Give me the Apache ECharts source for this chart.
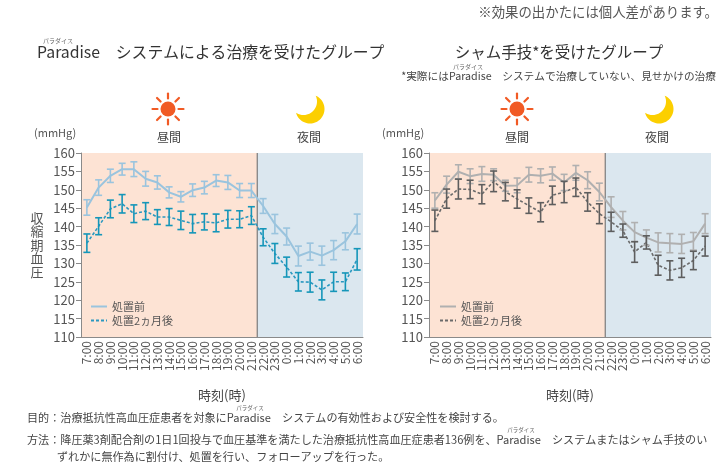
<!DOCTYPE html>
<html>
<head>
<meta charset="utf-8">
<script src="https://cdn.jsdelivr.net/npm/echarts@6/dist/echarts.min.js"></script>
<style>
html, body { margin: 0; padding: 0; background: #fff; }
#main { width: 723px; height: 464px; }
</style>
</head>
<body>
<div id="main"></div>
<script>
var hours = ['7:00', '8:00', '9:00', '10:00', '11:00', '12:00', '13:00', '14:00', '15:00', '16:00', '17:00', '18:00',
    '19:00', '20:00', '21:00', '22:00', '23:00', '0:00', '1:00', '2:00', '3:00', '4:00', '5:00', '6:00'];
var yTicks = [110, 115, 120, 125, 130, 135, 140, 145, 150, 155, 160];

// Paradise システム群
var paraBefore = [145.2, 150.6, 153.8, 155.6, 155.6, 153.0, 152.0, 149.3, 148.1, 149.9, 150.6, 152.5, 152.0, 149.8, 149.8,
    145.6, 140.7, 137.3, 132.0, 133.2, 132.1, 133.6, 136.0, 140.7];
var paraBeforeErr = [2.1, 2.1, 1.8, 1.6, 2.0, 2.0, 1.8, 1.5, 1.4, 1.7, 1.7, 1.6, 1.9, 1.9, 1.9,
    2.0, 2.6, 2.3, 2.7, 2.3, 2.6, 2.6, 2.3, 2.7];
var paraAfter = [135.5, 140.1, 144.8, 146.2, 143.5, 144.2, 142.6, 142.6, 141.7, 140.8, 141.3, 141.0, 142.0, 142.0, 143.0,
    137.1, 132.7, 129.0, 125.0, 124.9, 122.8, 125.0, 125.0, 131.1];
var paraAfterErr = [2.5, 2.3, 2.4, 2.5, 2.4, 2.3, 2.0, 2.3, 2.5, 2.5, 2.2, 2.4, 2.4, 2.3, 2.4,
    2.3, 2.7, 2.7, 2.5, 2.7, 2.7, 2.6, 2.4, 2.9];

// シャム手技群
var shamBefore = [147.1, 151.4, 154.9, 153.7, 154.3, 154.1, 151.1, 151.2, 154.1, 153.8, 154.4, 152.0, 154.6, 152.6, 149.4,
    145.3, 141.6, 138.5, 137.0, 135.7, 135.5, 135.3, 136.0, 140.8];
var shamBeforeErr = [2.1, 2.3, 1.9, 2.0, 2.0, 1.6, 1.5, 2.0, 2.0, 1.9, 1.8, 2.2, 2.0, 2.3, 2.4,
    2.8, 2.5, 2.6, 2.1, 2.6, 2.6, 2.6, 2.4, 2.7];
var shamAfter = [141.6, 147.6, 150.2, 150.1, 148.8, 152.3, 149.5, 147.5, 145.7, 143.9, 148.5, 149.4, 150.7, 146.7, 143.5,
    141.3, 138.9, 133.1, 135.7, 129.5, 128.1, 128.8, 130.8, 134.7];
var shamAfterErr = [2.9, 2.6, 2.7, 2.5, 2.6, 2.8, 2.5, 2.5, 2.1, 2.6, 2.5, 2.9, 2.5, 2.5, 2.7,
    2.6, 1.8, 2.8, 1.8, 2.7, 2.6, 2.6, 2.5, 2.7];

// 昼間 / 夜間 の区間 (category index)
var periods = [[0, 14, '昼間'], [15, 23, '夜間']];
var periodColors = { '昼間': '#fde3d4', '夜間': '#dbe7ef' };

var FONT = "'Noto Sans CJK JP', 'Noto Sans', sans-serif";
var yMin = yTicks[0], yMax = yTicks[yTicks.length - 1];

function errData(mean, err) {
    return mean.map(function (v, i) { return [i, v - err[i], v + err[i]]; });
}

function renderErr(params, api) {
    var top = api.coord([api.value(0), api.value(2)]);
    var bot = api.coord([api.value(0), api.value(1)]);
    var c = api.visual('color');
    var w = 3.5;
    var st = { stroke: c, lineWidth: 1.6 };
    return {
        type: 'group',
        children: [
            { type: 'line', shape: { x1: top[0], y1: top[1], x2: bot[0], y2: bot[1] }, style: st },
            { type: 'line', shape: { x1: top[0] - w, y1: top[1], x2: top[0] + w, y2: top[1] }, style: st },
            { type: 'line', shape: { x1: bot[0] - w, y1: bot[1], x2: bot[0] + w, y2: bot[1] }, style: st }
        ]
    };
}

function renderBg(params, api) {
    var bw = api.size([1, 0])[0];
    var a = api.coord([api.value(0), yMax]);
    var b = api.coord([api.value(1), yMin]);
    var x0 = a[0] - bw / 2, x1 = b[0] + bw / 2;
    var children = [{
        type: 'rect',
        shape: { x: x0, y: a[1], width: x1 - x0, height: b[1] - a[1] },
        style: { fill: periodColors[api.value(2)] }
    }];
    if (params.dataIndex > 0) {
        children.push({
            type: 'line',
            shape: { x1: x0, y1: a[1], x2: x0, y2: b[1] },
            style: { stroke: '#7a7a7a', lineWidth: 1.2 }
        });
    }
    return { type: 'group', children: children };
}

function makeAxes(idx) {
    return {
        x: {
            type: 'category', gridIndex: idx, data: hours,
            axisLine: { lineStyle: { color: '#8a8a8a' } },
            axisTick: { interval: 0, length: 5, lineStyle: { color: '#8a8a8a' } },
            axisLabel: { interval: 0, rotate: 90, fontSize: 12, color: '#555', margin: 4, fontFamily: FONT },
            name: '時刻(時)', nameLocation: 'middle', nameGap: 52,
            nameTextStyle: { fontSize: 13, color: '#444', fontFamily: FONT }
        },
        y: {
            type: 'value', gridIndex: idx, min: yMin, max: yMax, interval: 5,
            axisLine: { show: true, lineStyle: { color: '#8a8a8a' } },
            axisTick: { show: true, length: 5, lineStyle: { color: '#8a8a8a' } },
            splitLine: { show: false },
            axisLabel: { fontSize: 13, color: '#555', margin: 6, fontFamily: FONT }
        }
    };
}

var axL = makeAxes(0), axR = makeAxes(1);

function lineSeries(idx, name, data, color, width, dash) {
    return {
        name: name, type: 'line', xAxisIndex: idx, yAxisIndex: idx, data: data,
        symbol: 'none', showSymbol: false, symbolSize: 0, color: color,
        itemStyle: { color: color, opacity: 0 },
        lineStyle: { color: color, width: width, type: dash, opacity: 1 }, z: 3
    };
}

function groupSeries(idx, prefix, before, beforeErr, after, afterErr, cBefore, cAfter, cAfterErr) {
    return [
        {
            name: prefix + 'bg', type: 'custom', xAxisIndex: idx, yAxisIndex: idx, z: -1,
            renderItem: renderBg, data: periods, silent: true
        },
        lineSeries(idx, prefix + '処置前', before, cBefore, 2, 'solid'),
        lineSeries(idx, prefix + '処置2ヵ月後', after, cAfter, 1.6, [3, 2]),
        {
            name: prefix + 'errBefore', type: 'custom', xAxisIndex: idx, yAxisIndex: idx, z: 4,
            renderItem: renderErr, data: errData(before, beforeErr), itemStyle: { color: cBefore }
        },
        {
            name: prefix + 'errAfter', type: 'custom', xAxisIndex: idx, yAxisIndex: idx, z: 4,
            renderItem: renderErr, data: errData(after, afterErr), itemStyle: { color: cAfterErr }
        }
    ];
}

function legendFor(prefix, left) {
    return {
        left: left, top: 296, orient: 'vertical', itemGap: 3, itemWidth: 16, itemHeight: 10,
        data: [prefix + '処置前', prefix + '処置2ヵ月後'],
        formatter: function (n) { return n.slice(1); },
        textStyle: { fontSize: 11, color: '#555', fontFamily: FONT },
        selectedMode: false
    };
}

function sun(cx, cy) {
    var items = [{ type: 'circle', shape: { cx: cx, cy: cy, r: 7.5 }, style: { fill: '#f15a24' } }];
    for (var k = 0; k < 8; k++) {
        var a = k * Math.PI / 4;
        items.push({
            type: 'line',
            shape: { x1: cx + Math.cos(a) * 10.5, y1: cy + Math.sin(a) * 10.5, x2: cx + Math.cos(a) * 15.5, y2: cy + Math.sin(a) * 15.5 },
            style: { stroke: '#f15a24', lineWidth: 2.2, lineCap: 'round' }
        });
    }
    return items;
}

// 三日月: 大きな円から少しずらした円を引いた形
function moon(cx, cy) {
    var r1 = 14.5, r2 = 13.5, ox = -6.5, oy = -7.5;
    var d = Math.sqrt(ox * ox + oy * oy);
    var a = (r1 * r1 - r2 * r2 + d * d) / (2 * d);
    var base = Math.atan2(-oy, -ox);
    var s1 = Math.PI - Math.acos(a / r1);
    var s2 = Math.acos((d - a) / r2);
    var pts = [], n = 40, t, i;
    for (i = 0; i <= n; i++) {
        t = -s1 + 2 * s1 * i / n;
        pts.push([cx + r1 * Math.cos(base + t), cy + r1 * Math.sin(base + t)]);
    }
    for (i = 0; i <= n; i++) {
        t = s2 - 2 * s2 * i / n;
        pts.push([cx + ox + r2 * Math.cos(base + t), cy + oy + r2 * Math.sin(base + t)]);
    }
    return [{ type: 'polygon', shape: { points: pts }, style: { fill: '#fccf00' } }];
}

function txt(x, y, s, size, color, align) {
    return {
        type: 'text', x: x, y: y,
        style: { text: s, fontSize: size, fill: color || '#444', fontFamily: FONT, align: align || 'left', verticalAlign: 'middle' }
    };
}

var graphics = [
    txt(718, 12, '※効果の出かたには個人差があります。', 13.4, '#555', 'right'),
    txt(58, 41, 'パラダイス', 6, '#666', 'center'),
    txt(37, 52, 'Paradise　システムによる治療を受けたグループ', 15.8, '#333'),
    txt(559, 52, 'シャム手技*を受けたグループ', 15.5, '#333', 'center'),
    txt(468, 67, 'パラダイス', 6, '#666', 'center'),
    txt(716, 76, '*実際にはParadise　システムで治療していない、見せかけの治療', 10.7, '#444', 'right'),
    txt(169, 137, '昼間', 12, '#444', 'center'),
    txt(309, 137, '夜間', 12, '#444', 'center'),
    txt(517, 137, '昼間', 12, '#444', 'center'),
    txt(657, 137, '夜間', 12, '#444', 'center'),
    txt(34, 133, '(mmHg)', 11, '#555'),
    txt(382, 133, '(mmHg)', 11, '#555'),
    {
        type: 'text', x: 37, y: 245,
        style: { text: '収\n縮\n期\n血\n圧', fontSize: 13, lineHeight: 13.5, fill: '#555', fontFamily: FONT, align: 'center', verticalAlign: 'middle' }
    },
    txt(27, 418, '目的：治療抵抗性高血圧症患者を対象にParadise　システムの有効性および安全性を検討する。', 11.1, '#444'),
    txt(250, 408, 'パラダイス', 5.5, '#666', 'center'),
    txt(27, 440, '方法：降圧薬3剤配合剤の1日1回投与で血圧基準を満たした治療抵抗性高血圧症患者136例を、Paradise　システムまたはシャム手技のい', 11.1, '#444'),
    txt(521, 430, 'パラダイス', 5.5, '#666', 'center'),
    txt(57, 457, 'ずれかに無作為に割付け、処置を行い、フォローアップを行った。', 11.1, '#444')
].concat(sun(168, 109), moon(310, 109), sun(517, 109), moon(659, 109));

var chart = echarts.init(document.getElementById('main'));
chart.setOption({
    animation: false,
    textStyle: { fontFamily: FONT },
    grid: [
        { left: 81, top: 153, width: 282, height: 184 },
        { left: 429, top: 153, width: 282, height: 184 }
    ],
    xAxis: [axL.x, axR.x],
    yAxis: [axL.y, axR.y],
    legend: [legendFor('L', 85), legendFor('R', 434)],
    graphic: graphics,
    series: [].concat(
        groupSeries(0, 'L', paraBefore, paraBeforeErr, paraAfter, paraAfterErr, '#9ac4de', '#2a98c0', '#1596b9'),
        groupSeries(1, 'R', shamBefore, shamBeforeErr, shamAfter, shamAfterErr, '#b0b0b0', '#6a6a6a', '#5e5e5e')
    )
});
</script>
</body>
</html>
